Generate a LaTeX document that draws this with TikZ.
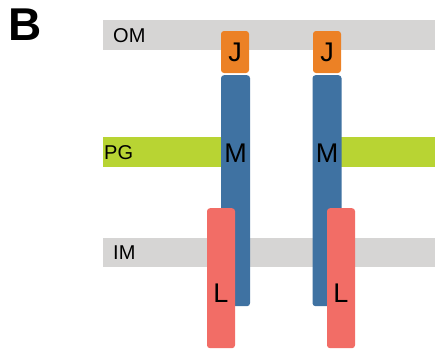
\documentclass[tikz,border=0pt]{standalone}
\usepackage{fontspec}
\setmainfont{Liberation Sans}
\definecolor{bandgray}{HTML}{D6D5D4}
\definecolor{pggreen}{HTML}{B8D433}
\definecolor{jorange}{HTML}{EC8125}
\definecolor{mblue}{HTML}{3F72A2}
\definecolor{lred}{HTML}{F26D66}
\begin{document}
\begin{tikzpicture}[x=1pt,y=-1pt,
		band/.style={fill=bandgray,inner sep=0pt,anchor=north west},
		pgband/.style={fill=pggreen,inner sep=0pt,anchor=north west},
		bandtext/.style={anchor=west,inner sep=0pt,font=\fontsize{20}{20}\selectfont},
		jbox/.style={fill=jorange,rounded corners=3pt,minimum width=28pt,minimum height=42pt,inner sep=0pt,font=\fontsize{27}{27}\selectfont},
		mbox/.style={fill=mblue,rounded corners=3pt,minimum width=29pt,minimum height=231pt,inner sep=0pt,anchor=north},
		lbox/.style={fill=lred,rounded corners=3pt,minimum width=28pt,minimum height=140pt,inner sep=0pt,anchor=north},
		ptext/.style={inner sep=0pt,font=\fontsize{27}{27}\selectfont}]
			\useasboundingbox (0,0) rectangle (435,348);
			% membranes
			\node [band,minimum width=332pt,minimum height=30pt] (om) at (103,20) {};
			\node [band,minimum width=332pt,minimum height=29pt] (im) at (103,238) {};
			\node [pgband,minimum width=118pt,minimum height=30pt] (pgleft) at (103,137) {};
			\node [pgband,minimum width=94pt,minimum height=30pt] (pgright) at (341,137) {};
			\node [bandtext] (omtext) at (113,36) {OM};
			\node [bandtext] (pgtext) at (104,153) {PG};
			\node [bandtext] (imtext) at (113,253) {IM};
			% left complex
			\node [jbox] (jleft) at (235,52) {J};
			\node [mbox] (mleft) at (235.5,75) {};
			\node [ptext] (mlefttext) at (235.5,153) {M};
			\node [lbox] (lleft) at (221,208) {};
			\node [ptext] (llefttext) at (221,293) {L};
			% right complex
			\node [jbox] (jright) at (327,52) {J};
			\node [mbox] (mright) at (327,75) {};
			\node [ptext] (mrighttext) at (327,153) {M};
			\node [lbox] (lright) at (341,208) {};
			\node [ptext] (lrighttext) at (341,293) {L};
			% panel letter
			\node [inner sep=0pt,anchor=north west,font=\fontsize{46}{46}\selectfont\bfseries] (panel) at (8,9) {B};
		\end{tikzpicture}
\end{document}
